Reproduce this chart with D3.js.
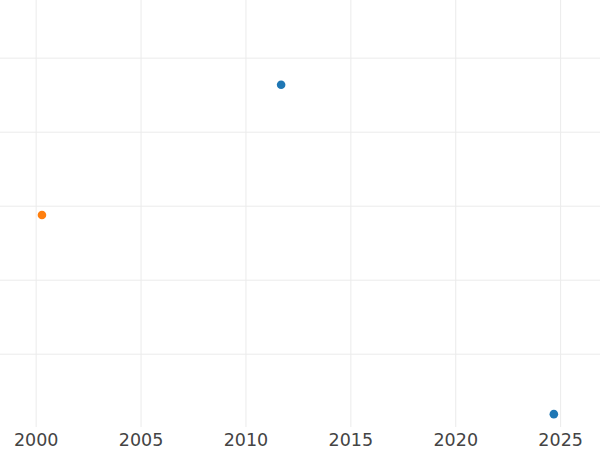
<!DOCTYPE html>
<html>
<head>
<meta charset="utf-8">
<script src="https://cdn.jsdelivr.net/npm/d3@7"></script>
<style>
  body { margin: 0; background: #fff; }
  svg { display: block; }
</style>
</head>
<body>
<div id="chart"></div>
<script>
// data
var seriesNames = ["A", "B"];
var seriesColors = ["#1f77b4", "#ff7f0e"];
var xValuesA = [2011.7, 2024.7];
var yValuesA = [4.64, 0.19];
var xValuesB = [2000.3];
var yValuesB = [2.88];
var xTicks = [2000, 2005, 2010, 2015, 2020, 2025];
var yTicks = [1, 2, 3, 4, 5];

var width = 600;
var height = 450;
var plotBottom = 427;

var svg = d3.select("#chart").append("svg")
    .attr("width", width)
    .attr("height", height)
    .style("background-color", "white");

var x = d3.scaleLinear().domain([1998.3, 2026.9]).range([0, width]);
var y = d3.scaleLinear().domain([0, 5.786]).range([428.2, 0]);

//horizontal grid
svg.append("g")
    .selectAll("line")
    .data(yTicks)
    .enter().append("line")
    .attr("x1", 0)
    .attr("x2", width)
    .attr("y1", d => y(d))
    .attr("y2", d => y(d))
    .attr("stroke", "#ebebeb")
    .attr("stroke-width", 1);

//x axis with gridlines
var xAxis = svg.append("g")
    .attr("transform", "translate(0," + plotBottom + ")")
    .call(d3.axisBottom(x).tickValues(xTicks).tickFormat(d3.format("d")).tickSize(-plotBottom));

xAxis.select(".domain").remove();
xAxis.selectAll(".tick line").attr("stroke", "#ebebeb");
xAxis.selectAll(".tick text")
    .attr("dy", null)
    .attr("y", 18.8)
    .attr("fill", "#444")
    .attr("font-family", "DejaVu Sans")
    .attr("font-size", "17.5px");

//points
var series = [
    {name: seriesNames[0], color: seriesColors[0], xs: xValuesA, ys: yValuesA},
    {name: seriesNames[1], color: seriesColors[1], xs: xValuesB, ys: yValuesB}
];

series.forEach(function(s) {
    svg.append("g")
        .selectAll("circle")
        .data(s.xs.map((v, i) => ({x: v, y: s.ys[i]})))
        .enter().append("circle")
        .attr("cx", d => x(d.x))
        .attr("cy", d => y(d.y))
        .attr("r", 4.3)
        .attr("fill", s.color);
});
</script>
</body>
</html>
